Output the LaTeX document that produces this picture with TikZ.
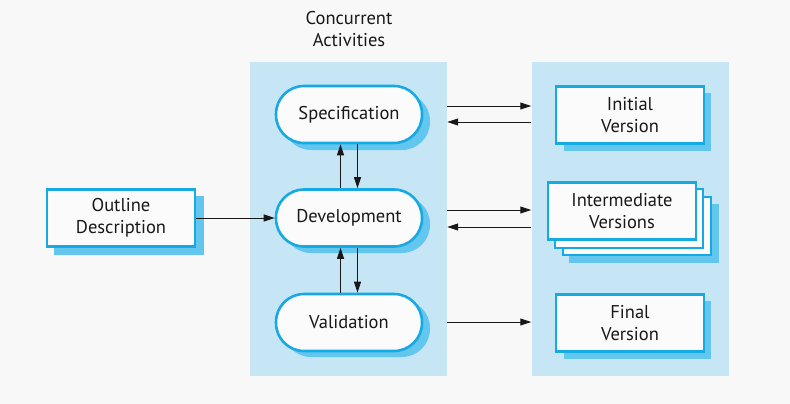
\documentclass[tikz,border=0pt]{standalone}
\usepackage{fontspec}
\setmainfont{PT Sans}
\usetikzlibrary{arrows.meta,calc}
\definecolor{bgc}{HTML}{F8F8F8}
\definecolor{panelc}{HTML}{C6E6F6}
\definecolor{borderc}{HTML}{17A9E1}
\definecolor{shadowc}{HTML}{62C6EF}
\definecolor{fillc}{HTML}{FBFBFB}
\definecolor{textc}{HTML}{1A1718}
\tikzset{
  panel/.style={fill=panelc,draw=none,minimum width=197pt,minimum height=314pt,inner sep=0pt},
  activity/.style={draw=borderc,line width=2.6pt,fill=fillc,rounded corners=28pt,minimum width=146pt,minimum height=57pt,inner sep=0pt,text=textc,font=\fontsize{18.5}{22}\selectfont},
  docbox/.style={draw=borderc,line width=2.6pt,fill=fillc,minimum width=148pt,minimum height=57pt,inner sep=0pt,align=center,text=textc,font=\fontsize{18.5}{22}\selectfont},
  arr/.style={line width=0.9pt,draw=textc,-{Triangle[length=11pt,width=7pt]}},
  titletext/.style={align=center,text=textc,font=\fontsize{18.5}{22}\selectfont}
}
\begin{document}
\begin{tikzpicture}[x=1pt,y=-1pt]
\fill[bgc] (0,0) rectangle (790,404);
\useasboundingbox (0,0) rectangle (790,404);
\node[panel] (lpanel) at (348.5,219) {};
\node[panel] (rpanel) at (630,219) {};
\node[titletext] (title) at (349,29) {Concurrent\\Activities};
% shadows
\fill[shadowc,rounded corners=28pt] (283,93) rectangle (430,150);
\fill[shadowc,rounded corners=28pt] (283,196) rectangle (430,253);
\fill[shadowc,rounded corners=28pt] (283,300) rectangle (430,357);
\fill[shadowc] (54,196) rectangle (204,255);
\fill[shadowc] (564,93) rectangle (711,151);
\fill[shadowc] (564,301) rectangle (711,359);
\fill[shadowc] (569,204) rectangle (719,263);
% activities
\node[activity] (spec) at (349,114.5) {Specification};
\node[activity] (dev) at (349,218) {Development};
\node[activity] (val) at (349,322.5) {Validation};
% documents
\node[docbox] (outline) at (121,218) {Outline\\Description};
\node[docbox] (initial) at (630,115) {Initial\\Version};
\node[docbox] (final) at (630,323) {Final\\Version};
\draw[borderc,line width=2.6pt,fill=fillc] (563,197) rectangle (711,255);
\draw[borderc,line width=2.6pt,fill=fillc] (555,189) rectangle (703,248);
\node[docbox] (inter) at (622,211) {Intermediate\\Versions};
% arrows
\draw[arr] (outline.east) -- (dev.west);
\draw[arr] ([xshift=-8.5pt]dev.north) -- ([xshift=-8.5pt]spec.south);
\draw[arr] ([xshift=8.5pt]spec.south) -- ([xshift=8.5pt]dev.north);
\draw[arr] ([xshift=-8.5pt]val.north) -- ([xshift=-8.5pt]dev.south);
\draw[arr] ([xshift=8.5pt]dev.south) -- ([xshift=8.5pt]val.north);
\draw[arr] (lpanel.east |- 0,106) -- (rpanel.west |- 0,106);
\draw[arr] (rpanel.west |- 0,122) -- (lpanel.east |- 0,122);
\draw[arr] (lpanel.east |- 0,210) -- (rpanel.west |- 0,210);
\draw[arr] (rpanel.west |- 0,227) -- (lpanel.east |- 0,227);
\draw[arr] (lpanel.east |- 0,322) -- (rpanel.west |- 0,322);
\end{tikzpicture}
\end{document}
